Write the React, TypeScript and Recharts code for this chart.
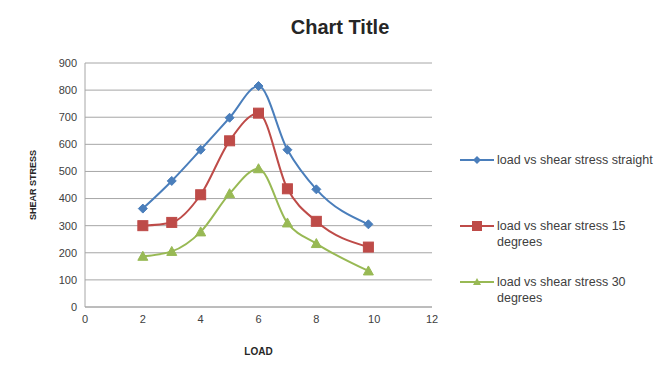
import { LineChart, Line, XAxis, YAxis, CartesianGrid, Legend } from 'recharts';

const loads = [2, 3, 4, 5, 6, 7, 8, 9.8];
const straight = [363, 465, 580, 698, 815, 580, 434, 305];
const deg15 = [300, 312, 414, 613, 715, 436, 316, 221];
const deg30 = [187, 205, 277, 418, 510, 310, 234, 133];
const xTicks = [0, 2, 4, 6, 8, 10, 12];
const yTicks = [0, 100, 200, 300, 400, 500, 600, 700, 800, 900];

const seriesNames = [
  'load vs shear stress straight',
  'load vs shear stress 15 degrees',
  'load vs shear stress 30 degrees',
];

const BLUE = '#4a7ebb';
const RED = '#be4b48';
const GREEN = '#98b954';

const data = loads.map((x, i) => ({ load: x, a: straight[i], b: deg15[i], c: deg30[i] }));

const font = '"Liberation Sans", Arial, sans-serif';

const Diamond = (props: any) => {
  const { cx, cy } = props;
  if (cx == null || cy == null) return null;
  return <path d={`M${cx},${cy - 4.5}L${cx + 4.5},${cy}L${cx},${cy + 4.5}L${cx - 4.5},${cy}Z`} fill={BLUE} stroke={BLUE} />;
};
const Square = (props: any) => {
  const { cx, cy } = props;
  if (cx == null || cy == null) return null;
  return <rect x={cx - 5} y={cy - 5} width={10} height={10} fill={RED} stroke={RED} />;
};
const Triangle = (props: any) => {
  const { cx, cy } = props;
  if (cx == null || cy == null) return null;
  return <path d={`M${cx},${cy - 5}L${cx + 5},${cy + 4}L${cx - 5},${cy + 4}Z`} fill={GREEN} stroke={GREEN} />;
};

const markers = [
  { color: BLUE, shape: (x: number, y: number) => <path d={`M${x},${y - 4}L${x + 4},${y}L${x},${y + 4}L${x - 4},${y}Z`} fill={BLUE} /> },
  { color: RED, shape: (x: number, y: number) => <rect x={x - 5} y={y - 5} width={10} height={10} fill={RED} /> },
  { color: GREEN, shape: (x: number, y: number) => <path d={`M${x},${y - 4}L${x + 4},${y + 3}L${x - 4},${y + 3}Z`} fill={GREEN} /> },
];

const gaps = [50, 24, 0];

const LegendBox = () => (
  <div style={{ fontFamily: font, fontSize: 12.5, color: '#404040', width: 200, overflow: 'hidden' }}>
    {seriesNames.map((name, i) => (
      <div key={name} style={{ display: 'flex', alignItems: 'flex-start', marginBottom: gaps[i] }}>
        <svg width={36} height={16} style={{ flex: 'none' }}>
          <line x1={0} y1={8} x2={34} y2={8} stroke={markers[i].color} strokeWidth={2} />
          {markers[i].shape(17, 8)}
        </svg>
        <div style={{ width: i === 0 ? 300 : 145, flex: 'none', whiteSpace: i === 0 ? 'nowrap' : 'normal', lineHeight: '16px', marginLeft: 1 }}>
          {name}
        </div>
      </div>
    ))}
  </div>
);

export default function App() {
  return (
    <div style={{ position: 'absolute', left: 0, top: 0, width: 660, height: 367, background: '#fff', overflow: 'hidden' }}>
      <div style={{ position: 'absolute', left: 0, top: 16, width: 680, textAlign: 'center', fontFamily: font, fontWeight: 700, fontSize: 20, color: '#262626' }}>
        Chart Title
      </div>
      <LineChart width={660} height={367} data={data} margin={{ top: 63, right: 228, left: 45, bottom: 10 }}>
        <CartesianGrid vertical={false} stroke="#a6a6a6" />
        <XAxis
          dataKey="load"
          type="number"
          domain={[0, 12]}
          ticks={xTicks}
          height={50}
          axisLine={{ stroke: '#a6a6a6' }}
          tickLine={false}
          tick={{ fill: '#404040', fontSize: 11, fontFamily: font }}
          label={{ value: 'LOAD', position: 'insideBottom', offset: 2, fill: '#262626', fontSize: 10, fontWeight: 700, fontFamily: font }}
        />
        <YAxis
          domain={[0, 900]}
          ticks={yTicks}
          width={40}
          axisLine={{ stroke: '#a6a6a6' }}
          tickLine={false}
          tick={{ fill: '#404040', fontSize: 11, fontFamily: font }}
          label={{ value: 'SHEAR STRESS', angle: -90, position: 'insideLeft', offset: -12, fill: '#262626', fontSize: 9, fontWeight: 700, fontFamily: font, style: { textAnchor: 'middle' } }}
        />
        <Legend
          layout="horizontal"
          verticalAlign="middle"
          align="center"
          wrapperStyle={{ left: 460, top: 152, width: 200 }}
          content={() => <LegendBox />}
        />
        <Line name={seriesNames[0]} type="monotone" dataKey="a" stroke={BLUE} strokeWidth={2} dot={<Diamond />} isAnimationActive={false} />
        <Line name={seriesNames[1]} type="monotone" dataKey="b" stroke={RED} strokeWidth={2} dot={<Square />} isAnimationActive={false} />
        <Line name={seriesNames[2]} type="monotone" dataKey="c" stroke={GREEN} strokeWidth={2} dot={<Triangle />} isAnimationActive={false} />
      </LineChart>
    </div>
  );
}
